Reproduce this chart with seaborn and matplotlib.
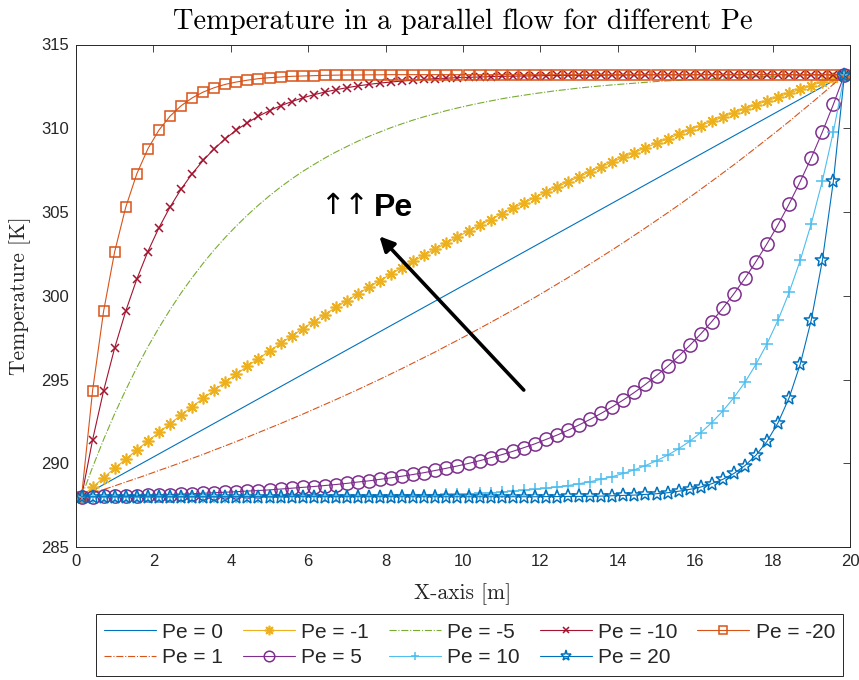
import matplotlib
matplotlib.use("Agg")
import matplotlib.pyplot as plt
import seaborn as sns
import numpy as np

# ---------------- data ----------------
x_m = [0.143, 0.429, 0.714, 1.000, 1.286, 1.571, 1.857, 2.143, 2.429, 2.714,
       3.000, 3.286, 3.571, 3.857, 4.143, 4.429, 4.714, 5.000, 5.286, 5.571,
       5.857, 6.143, 6.429, 6.714, 7.000, 7.286, 7.571, 7.857, 8.143, 8.429,
       8.714, 9.000, 9.286, 9.571, 9.857, 10.143, 10.429, 10.714, 11.000, 11.286,
       11.571, 11.857, 12.143, 12.429, 12.714, 13.000, 13.286, 13.571, 13.857, 14.143,
       14.429, 14.714, 15.000, 15.286, 15.571, 15.857, 16.143, 16.429, 16.714, 17.000,
       17.286, 17.571, 17.857, 18.143, 18.429, 18.714, 19.000, 19.286, 19.571, 19.857]

x_pe0 = [0.143, 19.857]
T_pe0 = [288.00, 313.20]

T_pe_m1 = [288.00, 288.57, 289.14, 289.70, 290.24, 290.79, 291.32, 291.84, 292.36, 292.87,
           293.38, 293.87, 294.36, 294.84, 295.32, 295.79, 296.25, 296.70, 297.15, 297.59,
           298.03, 298.46, 298.88, 299.30, 299.71, 300.12, 300.51, 300.91, 301.30, 301.68,
           302.06, 302.43, 302.79, 303.15, 303.51, 303.86, 304.20, 304.55, 304.88, 305.21,
           305.54, 305.86, 306.18, 306.49, 306.80, 307.10, 307.40, 307.69, 307.98, 308.27,
           308.55, 308.83, 309.10, 309.37, 309.64, 309.90, 310.16, 310.41, 310.67, 310.91,
           311.16, 311.40, 311.63, 311.87, 312.10, 312.32, 312.55, 312.77, 312.99, 313.20]

T_pe_m5 = [288.00, 289.77, 291.42, 292.96, 294.38, 295.71, 296.95, 298.09, 299.16, 300.16,
           301.08, 301.94, 302.74, 303.48, 304.17, 304.81, 305.41, 305.97, 306.49, 306.97,
           307.42, 307.83, 308.22, 308.58, 308.91, 309.23, 309.52, 309.78, 310.04, 310.27,
           310.49, 310.69, 310.87, 311.05, 311.21, 311.36, 311.50, 311.63, 311.76, 311.87,
           311.97, 312.07, 312.16, 312.25, 312.32, 312.40, 312.47, 312.53, 312.59, 312.64,
           312.69, 312.74, 312.79, 312.83, 312.86, 312.90, 312.93, 312.96, 312.99, 313.02,
           313.04, 313.07, 313.09, 313.11, 313.13, 313.14, 313.16, 313.17, 313.19, 313.20]

T_pe_m10 = [288.00, 291.40, 294.34, 296.89, 299.09, 300.99, 302.64, 304.06, 305.29, 306.36,
            307.28, 308.08, 308.77, 309.37, 309.89, 310.33, 310.72, 311.05, 311.34, 311.59,
            311.81, 312.00, 312.16, 312.30, 312.42, 312.53, 312.62, 312.70, 312.76, 312.82,
            312.87, 312.92, 312.96, 312.99, 313.02, 313.04, 313.06, 313.08, 313.10, 313.11,
            313.12, 313.13, 313.14, 313.15, 313.16, 313.16, 313.17, 313.17, 313.18, 313.18,
            313.18, 313.19, 313.19, 313.19, 313.19, 313.19, 313.20, 313.20, 313.20, 313.20,
            313.20, 313.20, 313.20, 313.20, 313.20, 313.20, 313.20, 313.20, 313.20, 313.20]

T_pe_m20 = [288.00, 294.34, 299.09, 302.64, 305.29, 307.28, 308.77, 309.89, 310.72, 311.34,
            311.81, 312.16, 312.42, 312.62, 312.76, 312.87, 312.96, 313.02, 313.06, 313.10,
            313.12, 313.14, 313.16, 313.17, 313.18, 313.18, 313.19, 313.19, 313.20, 313.20,
            313.20, 313.20, 313.20, 313.20, 313.20, 313.20, 313.20, 313.20, 313.20, 313.20,
            313.20, 313.20, 313.20, 313.20, 313.20, 313.20, 313.20, 313.20, 313.20, 313.20,
            313.20, 313.20, 313.20, 313.20, 313.20, 313.20, 313.20, 313.20, 313.20, 313.20,
            313.20, 313.20, 313.20, 313.20, 313.20, 313.20, 313.20, 313.20, 313.20, 313.20]

T_pe_1 = [288.00, 288.21, 288.43, 288.65, 288.88, 289.10, 289.33, 289.57, 289.80, 290.04,
          290.29, 290.53, 290.79, 291.04, 291.30, 291.56, 291.83, 292.10, 292.37, 292.65,
          292.93, 293.22, 293.51, 293.80, 294.10, 294.40, 294.71, 295.02, 295.34, 295.66,
          295.99, 296.32, 296.65, 297.00, 297.34, 297.69, 298.05, 298.41, 298.77, 299.14,
          299.52, 299.90, 300.29, 300.69, 301.08, 301.49, 301.90, 302.32, 302.74, 303.17,
          303.61, 304.05, 304.50, 304.95, 305.41, 305.88, 306.36, 306.84, 307.33, 307.82,
          308.33, 308.84, 309.36, 309.88, 310.41, 310.96, 311.50, 312.06, 312.63, 313.20]

T_pe_5 = [288.00, 288.01, 288.03, 288.04, 288.06, 288.07, 288.09, 288.11, 288.13, 288.16,
          288.18, 288.21, 288.24, 288.27, 288.30, 288.34, 288.37, 288.41, 288.46, 288.51,
          288.56, 288.61, 288.67, 288.73, 288.80, 288.88, 288.95, 289.04, 289.13, 289.23,
          289.33, 289.44, 289.57, 289.70, 289.84, 289.99, 290.15, 290.33, 290.51, 290.71,
          290.93, 291.16, 291.42, 291.68, 291.97, 292.29, 292.62, 292.98, 293.37, 293.78,
          294.23, 294.71, 295.23, 295.79, 296.39, 297.03, 297.72, 298.46, 299.26, 300.12,
          301.04, 302.04, 303.11, 304.25, 305.49, 306.82, 308.24, 309.78, 311.43, 313.20]

T_pe_10 = [288.00, 288.00, 288.00, 288.00, 288.00, 288.00, 288.00, 288.00, 288.00, 288.00,
           288.00, 288.00, 288.00, 288.00, 288.01, 288.01, 288.01, 288.01, 288.01, 288.02,
           288.02, 288.02, 288.03, 288.03, 288.04, 288.04, 288.05, 288.06, 288.07, 288.08,
           288.09, 288.10, 288.12, 288.14, 288.16, 288.18, 288.21, 288.24, 288.28, 288.33,
           288.38, 288.44, 288.50, 288.58, 288.67, 288.78, 288.90, 289.04, 289.20, 289.39,
           289.61, 289.86, 290.15, 290.48, 290.87, 291.31, 291.83, 292.43, 293.12, 293.92,
           294.84, 295.91, 297.14, 298.56, 300.21, 302.11, 304.31, 306.86, 309.80, 313.20]

T_pe_20 = [288.00, 288.00, 288.00, 288.00, 288.00, 288.00, 288.00, 288.00, 288.00, 288.00,
           288.00, 288.00, 288.00, 288.00, 288.00, 288.00, 288.00, 288.00, 288.00, 288.00,
           288.00, 288.00, 288.00, 288.00, 288.00, 288.00, 288.00, 288.00, 288.00, 288.00,
           288.00, 288.00, 288.00, 288.00, 288.00, 288.00, 288.00, 288.00, 288.00, 288.00,
           288.00, 288.00, 288.01, 288.01, 288.02, 288.02, 288.03, 288.04, 288.06, 288.08,
           288.10, 288.14, 288.18, 288.24, 288.33, 288.44, 288.58, 288.78, 289.04, 289.39,
           289.86, 290.48, 291.31, 292.43, 293.92, 295.91, 298.56, 302.11, 306.86, 313.20]

labels = ["Pe = 0", "Pe = -1", "Pe = -5", "Pe = -10", "Pe = -20",
          "Pe = 1", "Pe = 5", "Pe = 10", "Pe = 20"]

x_ticks = [0, 2, 4, 6, 8, 10, 12, 14, 16, 18, 20]
y_ticks = [285, 290, 295, 300, 305, 310, 315]

# ---------------- styling ----------------
sns.set_theme(style="white")
plt.rcParams['font.family'] = ['Liberation Sans', 'DejaVu Sans']
plt.rcParams['axes.unicode_minus'] = False

C_BLUE = "#0072BD"
C_ORANGE = "#D95319"
C_YELLOW = "#EDB120"
C_PURPLE = "#7E2F8E"
C_GREEN = "#77AC30"
C_CYAN = "#4DBEEE"
C_RED = "#A2142F"
AX_COL = "#262626"

fig = plt.figure(figsize=(8.59, 6.80), dpi=100)
ax = fig.add_axes([76 / 859, 1 - 547 / 680, (850 - 76) / 859, (547 - 44.5) / 680])

series = [
    (x_pe0, T_pe0, dict(color=C_BLUE, linestyle='-', lw=0.8)),
    (x_m, T_pe_m1, dict(color=C_YELLOW, linestyle='-', lw=0.8, marker=(8, 2, 0),
                        markersize=8.5, markeredgewidth=1.2, markeredgecolor=C_YELLOW)),
    (x_m, T_pe_m5, dict(color=C_GREEN, linestyle='-.', lw=0.8)),
    (x_m, T_pe_m10, dict(color=C_RED, linestyle='-', lw=0.8, marker='x',
                         markersize=6, markeredgewidth=1.1, markeredgecolor=C_RED)),
    (x_m, T_pe_m20, dict(color=C_ORANGE, linestyle='-', lw=0.8, marker='s',
                         markersize=6.5, markeredgewidth=1.1, markeredgecolor=C_ORANGE,
                         markerfacecolor='none')),
    (x_m, T_pe_1, dict(color=C_ORANGE, linestyle='-.', lw=0.8)),
    (x_m, T_pe_5, dict(color=C_PURPLE, linestyle='-', lw=0.8, marker='o',
                       markersize=9.5, markeredgewidth=1.1, markeredgecolor=C_PURPLE,
                       markerfacecolor='none')),
    (x_m, T_pe_10, dict(color=C_CYAN, linestyle='-', lw=0.8, marker='+',
                        markersize=8, markeredgewidth=1.1, markeredgecolor=C_CYAN)),
    (x_m, T_pe_20, dict(color=C_BLUE, linestyle='-', lw=0.8, marker='*',
                        markersize=10, markeredgewidth=1.1, markeredgecolor=C_BLUE,
                        markerfacecolor='none')),
]

for (xs, ys, kw), lab in zip(series, labels):
    sns.lineplot(x=xs, y=ys, ax=ax, label=lab, sort=False, estimator=None, **kw)

ax.set_xlim(0, 20)
ax.set_ylim(285, 315)
ax.set_xticks(x_ticks)
ax.set_yticks(y_ticks)
ax.tick_params(direction='in', length=5, width=0.6, colors=AX_COL,
               top=True, right=True, labelsize=12, pad=5)
for t in ax.get_xticklabels() + ax.get_yticklabels():
    t.set_color(AX_COL)
for sp in ax.spines.values():
    sp.set_color(AX_COL)
    sp.set_linewidth(0.7)

ax.set_title("Temperature in a parallel flow for different Pe", family='cmr10',
             fontsize=20.5, color='black', pad=11.5)
ax.set_xlabel("X-axis [m]", family='cmr10', fontsize=15.5, color=AX_COL, labelpad=10)
ax.set_ylabel("Temperature [K]", family='cmr10', fontsize=15.5, color=AX_COL, labelpad=7)

# annotation arrow + text
ax.annotate("", xy=(7.84, 303.55), xytext=(11.57, 294.37),
            arrowprops=dict(arrowstyle='-|>', lw=2.6, color='black',
                            mutation_scale=22, shrinkA=0, shrinkB=0))
ax.text(6.30, 305.35, "\u2191\u2191", fontsize=21, family='DejaVu Sans',
        ha='left', va='center', color='black')
ax.text(7.70, 305.25, "Pe", fontsize=23, fontweight='bold',
        family='Liberation Sans', ha='left', va='center', color='black')

# legend: reorder so rows read like the reference
handles, labs = ax.get_legend_handles_labels()
ax.get_legend().remove()
order = [0, 5, 1, 6, 2, 7, 3, 8, 4]
leg = fig.legend([handles[i] for i in order], [labs[i] for i in order],
                 loc='center', bbox_to_anchor=(469.5 / 859, 1 - 645 / 680),
                 ncol=5, fontsize=15, frameon=True, fancybox=False,
                 edgecolor=AX_COL, framealpha=1, handlelength=2.5, markerscale=0.8,
                 columnspacing=0.95, handletextpad=0.3, borderpad=0.4,
                 labelspacing=0.33, borderaxespad=0)
leg.get_frame().set_linewidth(0.7)

fig.savefig("out.png", dpi=100)
